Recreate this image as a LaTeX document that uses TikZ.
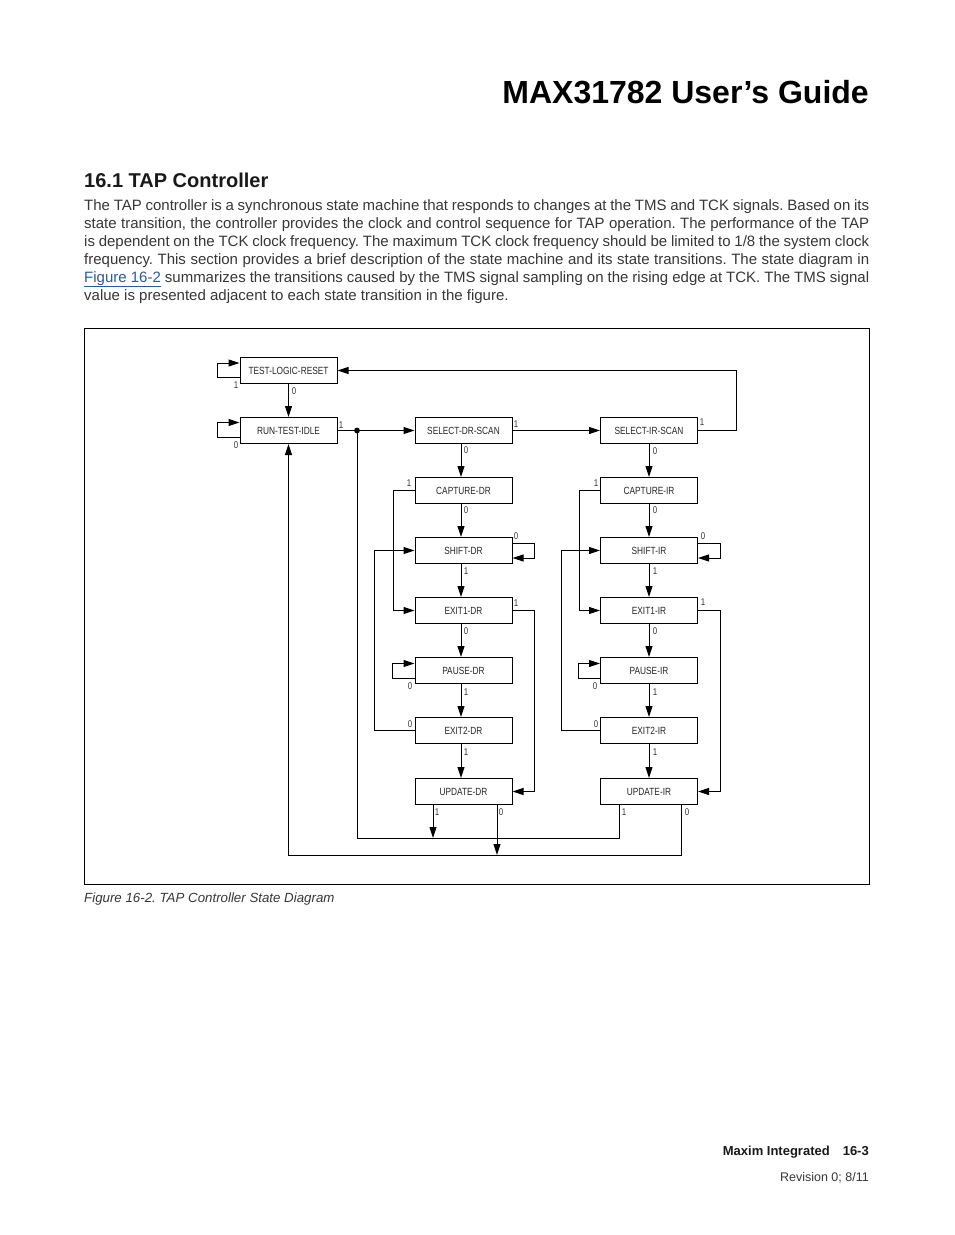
\documentclass[tikz,border=0pt]{standalone}
\usepackage{fontspec}
\setmainfont{Liberation Sans}
\newfontfamily\cond[FakeStretch=0.8]{Liberation Sans}
\usetikzlibrary{arrows.meta}
\definecolor{linkblue}{RGB}{40,90,160}
\definecolor{bodygray}{RGB}{55,55,55}
\frenchspacing
\begin{document}
\begin{tikzpicture}[x=1pt,y=-1pt,
  state/.style={draw, line width=1pt, minimum width=97pt, minimum height=26pt, inner sep=0pt,
                font=\cond\fontsize{10.4}{12}\selectfont, text=black!85},
  lbl/.style={font=\cond\fontsize{9.8}{11}\selectfont, text=black!80, inner sep=0pt},
  wire/.style={line width=1pt},
  arr/.style={line width=1pt, -{Triangle[length=11pt,width=7pt]}},
  txt/.style={anchor=base west, inner sep=0pt, font=\fontsize{15}{18}\selectfont, text=bodygray},
]
\fill[white] (0,0) rectangle (954,1235);
\useasboundingbox (0,0) rectangle (954,1235);

% ---- page text ----
\node[anchor=base east, inner sep=0pt, font=\bfseries\fontsize{32}{36}\selectfont] (title) at (869,103) {MAX31782 User’s Guide};
\node[anchor=base west, inner sep=0pt, font=\bfseries\fontsize{20}{24}\selectfont, text=black!90] (head) at (84,187) {16.1 TAP Controller};
\node[txt] (p1) at (84,210) {\makebox[785pt][s]{The TAP controller is a synchronous state machine that responds to changes at the TMS and TCK signals. Based on its}};
\node[txt] (p2) at (84,228) {\makebox[785pt][s]{state transition, the controller provides the clock and control sequence for TAP operation. The performance of the TAP}};
\node[txt] (p3) at (84,246) {\makebox[785pt][s]{is dependent on the TCK clock frequency. The maximum TCK clock frequency should be limited to 1/8 the system clock}};
\node[txt] (p4) at (84,264) {\makebox[785pt][s]{frequency. This section provides a brief description of the state machine and its state transitions. The state diagram in}};
\node[txt] (p5) at (84,282) {\makebox[785pt][s]{\textcolor{linkblue}{\underline{Figure 16-2}} summarizes the transitions caused by the TMS signal sampling on the rising edge at TCK. The TMS signal}};
\node[txt] (p6) at (84,300) {value is presented adjacent to each state transition in the figure.};

\node[anchor=base west, inner sep=0pt, font=\itshape\fontsize{13.3}{16}\selectfont, text=bodygray] (cap) at (84,902) {Figure 16-2. TAP Controller State Diagram};
\node[anchor=base east, inner sep=0pt, font=\bfseries\fontsize{13}{16}\selectfont, text=black!90] (foot) at (869,1155) {Maxim Integrated\hspace{13pt}16-3};
\node[anchor=base east, inner sep=0pt, font=\fontsize{12.5}{15}\selectfont, text=bodygray] (rev) at (869,1181) {Revision 0; 8/11};

% ---- frame ----
\draw[line width=0.9pt] (84,328) rectangle (869,884);

% ---- states ----
\node[state] (tlr) at (288.5,370.5) {TEST-LOGIC-RESET};
\node[state] (rti) at (288.5,430.5) {RUN-TEST-IDLE};
\node[state] (sds) at (463.5,430.5) {SELECT-DR-SCAN};
\node[state] (sis) at (649,430.5) {SELECT-IR-SCAN};

\node[state] (capdr) at (463.5,490.5) {CAPTURE-DR};
\node[state] (shdr)  at (463.5,550.5) {SHIFT-DR};
\node[state] (e1dr)  at (463.5,610.5) {EXIT1-DR};
\node[state] (padr)  at (463.5,670.5) {PAUSE-DR};
\node[state] (e2dr)  at (463.5,730.5) {EXIT2-DR};
\node[state] (updr)  at (463.5,791.5) {UPDATE-DR};

\node[state] (capir) at (649,490.5) {CAPTURE-IR};
\node[state] (shir)  at (649,550.5) {SHIFT-IR};
\node[state] (e1ir)  at (649,610.5) {EXIT1-IR};
\node[state] (pair)  at (649,670.5) {PAUSE-IR};
\node[state] (e2ir)  at (649,730.5) {EXIT2-IR};
\node[state] (upir)  at (649,791.5) {UPDATE-IR};

% ---- top part ----
\draw[arr] ([yshift=-6.5pt]tlr.west) -- ++(-22,0) -- ++(0,-14) -- ([yshift=7.5pt]tlr.west);
\node[lbl] at (236,385) {1};
\draw[arr] (tlr.south) -- (rti.north);
\node[lbl] at (294,391) {0};
\draw[arr] ([yshift=-7pt]rti.west) -- ++(-22,0) -- ++(0,-15) -- ([yshift=8pt]rti.west);
\node[lbl] at (236,445) {0};

\coordinate (j) at (357,430.5);
\draw[arr] (rti.east) -- (sds.west);
\fill (j) circle (2.9pt);
\node[lbl] at (341,425) {1};

\draw[arr] (sds.east) -- (sis.west);
\node[lbl] at (516,424) {1};
\coordinate (rt) at (736,430.5);
\draw[arr] (sis.east) -- (rt) |- (tlr.east);
\node[lbl] at (702,422) {1};

% ---- DR column ----
\draw[arr] ([xshift=-2.5pt]sds.south) -- ([xshift=-2.5pt]capdr.north);
\node[lbl] at (466,450) {0};
\draw[arr] ([xshift=-2.5pt]capdr.south) -- ([xshift=-2.5pt]shdr.north);
\node[lbl] at (466,510) {0};
\draw[arr] ([xshift=-2.5pt]shdr.south) -- ([xshift=-2.5pt]e1dr.north);
\node[lbl] at (466,571) {1};
\draw[arr] ([xshift=-2.5pt]e1dr.south) -- ([xshift=-2.5pt]padr.north);
\node[lbl] at (466,631) {0};
\draw[arr] ([xshift=-2.5pt]padr.south) -- ([xshift=-2.5pt]e2dr.north);
\node[lbl] at (466,692) {1};
\draw[arr] ([xshift=-2.5pt]e2dr.south) -- ([xshift=-2.5pt]updr.north);
\node[lbl] at (466,752) {1};

\coordinate (cdl) at (393,490.5);
\draw[arr] (capdr.west) -- (cdl) |- (e1dr.west);
\node[lbl] at (409,483) {1};
\draw[arr] ([yshift=7.5pt]shdr.east) -- ++(22,0) -- ++(0,15) -- ([yshift=-7.5pt]shdr.east);
\node[lbl] at (516,536) {0};
\coordinate (e1dx) at (534,610.5);
\draw[arr] (e1dr.east) -- (e1dx) |- (updr.east);
\node[lbl] at (516,603) {1};
\draw[arr] ([yshift=-8pt]padr.west) -- ++(-22,0) -- ++(0,-15) -- ([yshift=7pt]padr.west);
\node[lbl] at (410,686) {0};
\coordinate (e2dx) at (374,730.5);
\draw[arr] (e2dr.west) -- (e2dx) |- (shdr.west);
\node[lbl] at (410,724) {0};

% ---- IR column ----
\draw[arr] (sis.south) -- (capir.north);
\node[lbl] at (655,451) {0};
\draw[arr] (capir.south) -- (shir.north);
\node[lbl] at (655,510) {0};
\draw[arr] (shir.south) -- (e1ir.north);
\node[lbl] at (655,571) {1};
\draw[arr] (e1ir.south) -- (pair.north);
\node[lbl] at (655,631) {0};
\draw[arr] (pair.south) -- (e2ir.north);
\node[lbl] at (655,692) {1};
\draw[arr] (e2ir.south) -- (upir.north);
\node[lbl] at (655,752) {1};

\coordinate (cil) at (579,490.5);
\draw[arr] (capir.west) -- (cil) |- (e1ir.west);
\node[lbl] at (596,483) {1};
\draw[arr] ([yshift=7.5pt]shir.east) -- ++(22,0) -- ++(0,15) -- ([yshift=-7.5pt]shir.east);
\node[lbl] at (703,536) {0};
\coordinate (e1ix) at (720,610.5);
\draw[arr] (e1ir.east) -- (e1ix) |- (upir.east);
\node[lbl] at (703,602) {1};
\draw[arr] ([yshift=-8pt]pair.west) -- ++(-22,0) -- ++(0,-15) -- ([yshift=7pt]pair.west);
\node[lbl] at (595,686) {0};
\coordinate (e2ix) at (561,730.5);
\draw[arr] (e2ir.west) -- (e2ix) |- (shir.west);
\node[lbl] at (596,724) {0};

% ---- bottom return paths ----
\coordinate (u1) at (433,838);
\coordinate (u0) at (497,855);
\coordinate (b1) at (619,838);
\coordinate (b0) at (681,855);
\draw[arr] (updr.south -| u1) -- (u1);
\node[lbl] at (437,812) {1};
\draw[arr] (updr.south -| u0) -- (u0);
\node[lbl] at (501,812) {0};
\draw[wire] (j) |- (b1) -- (upir.south -| b1);
\node[lbl] at (624,812) {1};
\draw[arr] (upir.south -| b0) -- (b0) -| (rti.south);
\node[lbl] at (687,812) {0};
\end{tikzpicture}
\end{document}
